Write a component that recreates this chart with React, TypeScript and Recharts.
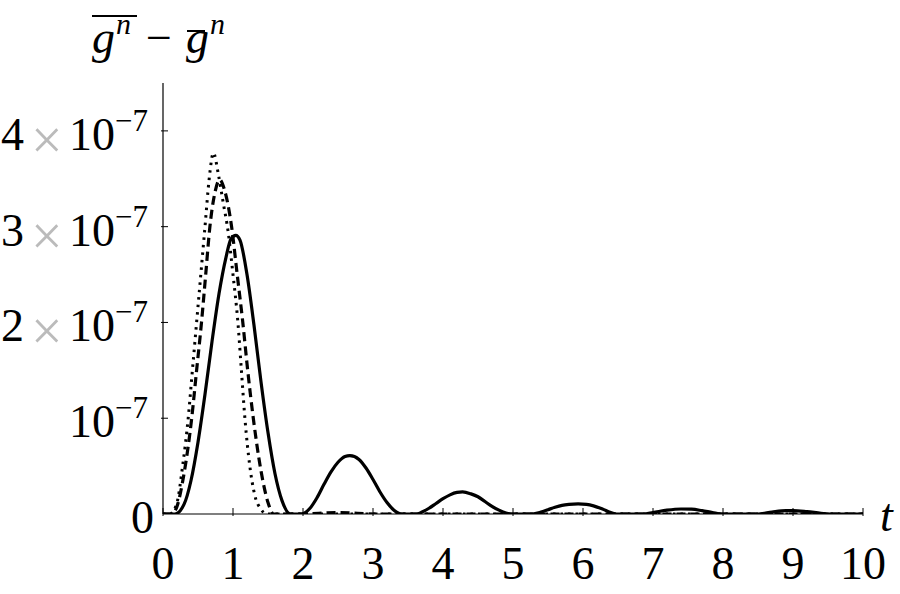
import React from 'react';
import { LineChart, Line, XAxis, YAxis } from 'recharts';

// values are in units of 1e-7
const xTicks = [0, 1, 2, 3, 4, 5, 6, 7, 8, 9, 10];
const yTicks = [0, 1, 2, 3, 4];

const solidT = [0, 0.17, 0.3, 0.4, 0.5, 0.6, 0.7, 0.8, 0.9, 0.97, 1.04, 1.1, 1.2, 1.3, 1.4, 1.5, 1.6, 1.7, 1.82,
  1.98, 2.1, 2.2, 2.3, 2.4, 2.5, 2.6, 2.67, 2.8, 2.9, 3.0, 3.1, 3.2, 3.3, 3.41,
  3.62, 3.7, 3.8, 3.9, 4.0, 4.1, 4.2, 4.28, 4.4, 4.5, 4.6, 4.7, 4.8, 4.9, 4.98,
  5.27, 5.4, 5.5, 5.6, 5.7, 5.8, 5.93, 6.05, 6.15, 6.25, 6.35, 6.48,
  6.86, 7.0, 7.2, 7.4, 7.55, 7.7, 7.85, 7.98,
  8.5, 8.7, 8.9, 9.0, 9.2, 9.4, 9.53, 10];
const solidV = [0, 0, 0.1, 0.35, 0.75, 1.25, 1.8, 2.3, 2.68, 2.87, 2.91, 2.86, 2.5, 1.97, 1.38, 0.85, 0.42, 0.14, 0,
  0, 0.06, 0.17, 0.31, 0.44, 0.54, 0.6, 0.61, 0.57, 0.48, 0.36, 0.23, 0.12, 0.04, 0,
  0, 0.02, 0.06, 0.11, 0.16, 0.2, 0.225, 0.23, 0.21, 0.18, 0.13, 0.08, 0.04, 0.01, 0,
  0, 0.02, 0.045, 0.07, 0.09, 0.1, 0.105, 0.1, 0.085, 0.06, 0.03, 0,
  0, 0.015, 0.04, 0.052, 0.05, 0.035, 0.015, 0,
  0, 0.02, 0.035, 0.036, 0.025, 0.008, 0, 0];

const dashedT = [0, 0.12, 0.2, 0.3, 0.41, 0.48, 0.55, 0.61, 0.67, 0.74, 0.81, 0.88, 0.98, 1.06, 1.14, 1.21, 1.29, 1.4, 1.5, 1.58,
  1.95, 2.5, 3.05, 10];
const dashedV = [0, 0, 0.08, 0.42, 1.0, 1.5, 2.0, 2.5, 3.0, 3.35, 3.49, 3.38, 3.0, 2.5, 2.0, 1.5, 1.0, 0.45, 0.12, 0,
  0, 0.015, 0, 0];

const dottedT = [0, 0.1, 0.2, 0.28, 0.36, 0.42, 0.48, 0.54, 0.6, 0.66, 0.72, 0.79, 0.86, 0.93, 1.0, 1.07, 1.12, 1.17, 1.24, 1.31, 1.4, 1.48, 10];
const dottedV = [0, 0, 0.12, 0.5, 1.0, 1.5, 2.0, 2.5, 3.0, 3.5, 3.77, 3.55, 3.25, 2.95, 2.5, 2.0, 1.5, 1.0, 0.5, 0.2, 0.05, 0, 0];

const solidData = solidT.map((t, i) => ({ t, v: solidV[i] }));
const dashedData = dashedT.map((t, i) => ({ t, v: dashedV[i] }));
const dottedData = dottedT.map((t, i) => ({ t, v: dottedV[i] }));

const FONT = '"Liberation Serif", "DejaVu Serif", serif';

const XTick = (props: any) => {
  const { x, y, payload } = props;
  return (
    <g>
      <line x1={x} x2={x} y1={y} y2={y - 8} stroke="#000" strokeWidth={1} />
      <text x={x} y={y + 63} textAnchor="middle" fontSize={46} fontFamily={FONT} fill="#000">
        {payload.value}
      </text>
    </g>
  );
};

const YTick = (props: any) => {
  const { x, y, payload } = props;
  const v = payload.value;
  return (
    <g fontFamily={FONT} fill="#000">
      {v > 0 && <line x1={x} x2={x + 7} y1={y} y2={y} stroke="#000" strokeWidth={1} />}
      {v === 0 ? (
        <text x={x - 7} y={y + 19} textAnchor="end" fontSize={46}>0</text>
      ) : (
        <>
          {v > 1 && <text x={1} y={y + 19} fontSize={46}>{v}</text>}
          {v > 1 && <text x={31} y={y + 28} fontSize={56} fill="#bbb">×</text>}
          <text x={x - 13} y={y + 19} textAnchor="end" fontSize={46}>
            <tspan>10</tspan>
            <tspan dy={-19} fontSize={31}>−7</tspan>
          </text>
        </>
      )}
    </g>
  );
};

export default function App() {
  return (
    <div style={{ position: 'absolute', left: 0, top: 0, width: 900, height: 594, background: '#fff' }}>
      <LineChart width={900} height={594} margin={{ top: 83, right: 37, left: 0, bottom: 0 }}>
        <XAxis
          dataKey="t"
          type="number"
          domain={[0, 10]}
          ticks={xTicks}
          allowDataOverflow
          height={80}
          tickSize={0}
          tickLine={false}
          axisLine={{ stroke: '#000', strokeWidth: 1.2 }}
          tick={<XTick />}
          interval={0}
        />
        <YAxis
          dataKey="v"
          type="number"
          domain={[0, 4.5]}
          ticks={yTicks}
          allowDataOverflow
          width={163}
          tickSize={0}
          tickLine={false}
          axisLine={{ stroke: '#000', strokeWidth: 1.2 }}
          tick={<YTick />}
          interval={0}
        />
        <Line data={dottedData} dataKey="v" type="monotone" stroke="#000" strokeWidth={3}
          strokeDasharray="2.5 5" dot={false} isAnimationActive={false} />
        <Line data={dashedData} dataKey="v" type="monotone" stroke="#000" strokeWidth={3.2}
          strokeDasharray="9 5" dot={false} isAnimationActive={false} />
        <Line data={solidData} dataKey="v" type="monotone" stroke="#000" strokeWidth={3.2}
          dot={false} isAnimationActive={false} />
      </LineChart>
      <svg width={900} height={594} style={{ position: 'absolute', left: 0, top: 0, pointerEvents: 'none' }}>
        <g fontFamily={FONT} fontStyle="italic" fill="#000">
          <text x={92} y={53} fontSize={46}>g</text>
          <text x={116} y={34} fontSize={30}>n</text>
          <line x1={92} x2={137} y1={16} y2={16} stroke="#000" strokeWidth={2} />
          <text x={146} y={53} fontSize={46} fontStyle="normal">−</text>
          <text x={186} y={53} fontSize={46}>g</text>
          <text x={210} y={34} fontSize={30}>n</text>
          <line x1={187} x2={205} y1={31} y2={31} stroke="#000" strokeWidth={2} />
          <text x={880} y={531} fontSize={46}>t</text>
        </g>
      </svg>
    </div>
  );
}
